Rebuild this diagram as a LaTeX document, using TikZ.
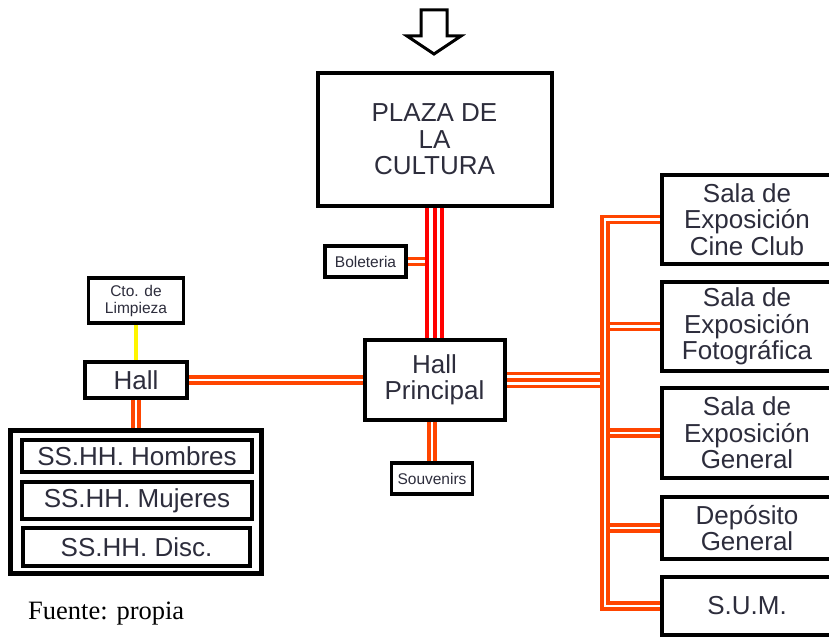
\documentclass[tikz,border=0pt]{standalone}
\usepackage{fontspec}
\setmainfont{Liberation Serif}
\newfontfamily\diagfont{Liberation Sans}
\usepackage{tikz}
\usetikzlibrary{positioning, calc, backgrounds}
\definecolor{ductorange}{RGB}{255,69,0}
\definecolor{ductred}{RGB}{255,0,0}
\definecolor{labelink}{RGB}{45,45,60}
\definecolor{linkyellow}{RGB}{255,245,0}
\newcommand\bigtxt{\diagfont\fontsize{26}{26.5}\selectfont}
\newcommand\smalltxt{\diagfont\fontsize{15.5}{17}\selectfont}

\begin{document}
\begin{tikzpicture}[x=1pt, y=-1pt,
  room/.style={draw, line width=4pt, fill=white, align=center, inner sep=0pt,
               text=labelink, font=\bigtxt},
  tag/.style={room, line width=3.5pt, font=\smalltxt},
  duct/.style={draw=ductorange, line width=3.5pt, double=white, double distance=2.5pt},
  redline/.style={draw=ductred, line width=4pt},
  orangeline/.style={draw=ductorange, line width=3.5pt},
  link/.style={draw=linkyellow, line width=4pt}
]
  \useasboundingbox (0,0) rectangle (829,639);
  \clip (0,0) rectangle (829,639);
  \draw[line width=3pt] (421,10) -- (447,10) -- (447,36) -- (461,36) -- (434,54)
    -- (407,36) -- (421,36) -- cycle;
  \node[room, minimum width=234pt, minimum height=133pt] (plaza) at (434.5,139.5) {PLAZA DE\\LA\\CULTURA};
  \node[tag, minimum width=81pt, minimum height=31pt] (bolet) at (365.5,261.5) {Boleteria};
  \node[room, minimum width=140pt, minimum height=80pt] (hallp) at (434.5,380) {Hall\\Principal};
  \node[tag, minimum width=81pt, minimum height=31pt] (souv) at (432,478.5) {Souvenirs};
  \node[tag, minimum width=95pt, minimum height=45pt] (limp) at (136,300.5) {Cto. de\\Limpieza};
  \node[room, minimum width=102pt, minimum height=36pt] (hall) at (136,380) {Hall};
  \node[room, line width=5pt, minimum width=251pt, minimum height=143pt] (sshh) at (136,501.5) {};
  \node[room, minimum width=230pt, minimum height=32pt] (hombres) at (137,456) {SS.HH. Hombres};
  \node[room, minimum width=230pt, minimum height=37pt] (mujeres) at (137,500.5) {SS.HH. Mujeres};
  \node[room, minimum width=227pt, minimum height=38pt] (disc) at (136.5,547) {SS.HH. Disc.};
  \node[room, minimum width=170pt, minimum height=89pt] (cine) at (747,219.5) {Sala de\\Exposición\\Cine Club};
  \node[room, minimum width=170pt, minimum height=89pt] (foto) at (747,326.5) {Sala de\\Exposición\\Fotográfica};
  \node[room, minimum width=170pt, minimum height=90pt] (gen) at (747,433) {Sala de\\Exposición\\General};
  \node[room, minimum width=170pt, minimum height=62pt] (depo) at (747,528) {Depósito\\General};
  \node[room, minimum width=170pt, minimum height=58pt] (sum) at (747,606) {S.U.M.};
  \node[anchor=base west, inner sep=0pt, font=\fontsize{26.5}{28}\selectfont] (source) at (28,619) {Fuente: propia};

  \coordinate (trunk) at ([xshift=-7.5pt]plaza.south);
  \coordinate (bus) at (605,400);
  \coordinate (busin) at (609,400);
  \coordinate (busout) at (603,400);
  \begin{scope}[on background layer]
    \draw[duct] (bolet.east) -- (bolet.east -| trunk);
    \foreach \dx in {-7.5,0,7.5}
      \draw[redline] ([xshift=\dx pt]plaza.south) -- ([xshift=\dx pt]hallp.north);
    \foreach \dy in {-6.5,0,6.5}
      \draw[orangeline] ([yshift=\dy pt]hallp.east) -- ([yshift=\dy pt]hallp.east -| busout);
    \foreach \room in {foto, gen, depo}
      \draw[duct] (\room.west) -- (\room.west -| busin);
    \draw[duct] (cine.west) -| (bus) |- (sum.west);
    \draw[duct] (hall) -- (hallp);
    \draw[duct] (hall) -- (sshh);
    \draw[duct] (hallp.south -| souv.north) -- (souv.north);
    \draw[link] (limp) -- (hall);
  \end{scope}
\end{tikzpicture}
\end{document}
